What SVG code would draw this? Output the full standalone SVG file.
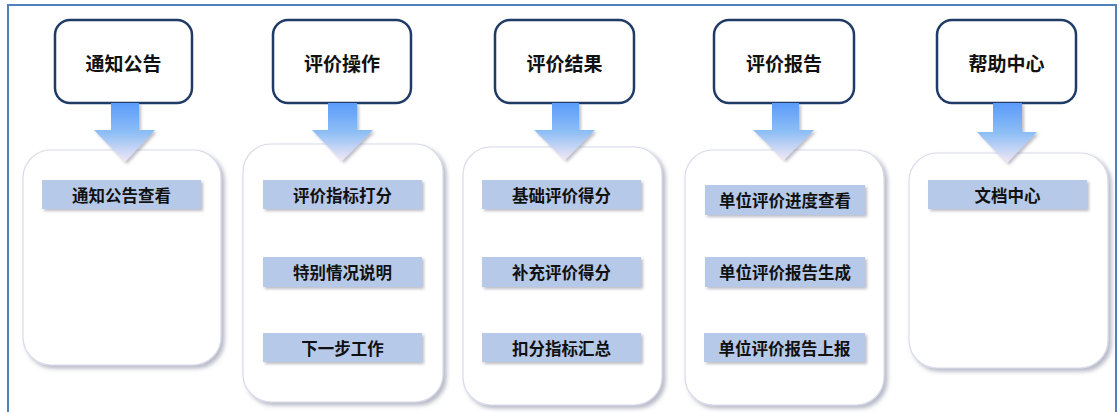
<svg xmlns="http://www.w3.org/2000/svg" width="1119" height="412" viewBox="0 0 1119 412">
<defs>
<linearGradient id="arrowGrad" x1="0" y1="0" x2="0" y2="1">
<stop offset="0" stop-color="#5B9BFA"/>
<stop offset="0.5" stop-color="#8DBEF5"/>
<stop offset="1" stop-color="#F3E8F5"/>
</linearGradient>
<filter id="shadowBig" x="-10%" y="-10%" width="125%" height="125%">
<feDropShadow dx="3" dy="3" stdDeviation="2" flood-color="#7A7F99" flood-opacity="0.55"/>
</filter>
<filter id="shadowSmall" x="-10%" y="-20%" width="125%" height="150%">
<feDropShadow dx="2" dy="2" stdDeviation="1.5" flood-color="#6A6A80" flood-opacity="0.45"/>
</filter>
</defs>
<style>
.frame{fill:none;stroke:#4F81BD;stroke-width:2}
.top{fill:#FFFFFF;stroke:#1F3B66;stroke-width:2.5}
.panel{fill:#FFFFFF;stroke:#DADBEA;stroke-width:1.2;filter:url(#shadowBig)}
.item{fill:#B7C9E8;filter:url(#shadowSmall)}
.arrow{fill:url(#arrowGrad);filter:url(#shadowSmall)}
.title{font-family:"Noto Sans CJK SC","Noto Sans",sans-serif;font-weight:bold;font-size:19px;fill:#111111;text-anchor:middle;dominant-baseline:central}
.label{font-family:"Noto Sans CJK SC","Noto Sans",sans-serif;font-weight:bold;font-size:16.5px;fill:#111111;text-anchor:middle;dominant-baseline:central}
</style>
<rect x="0" y="0" width="1119" height="412" fill="#FFFFFF"/>
<rect class="frame" x="8" y="5" width="1108" height="430"/>

<g id="col1">
<g id="top1"><rect class="top" x="55" y="20" width="137" height="83" rx="15"/><text class="title" x="123.5" y="62">通知公告</text></g>
<g id="panel1"><rect class="panel" x="23" y="150" width="198" height="215" rx="28"/>
<rect class="item" x="42" y="180" width="159" height="29"/><text class="label" x="121.5" y="195">通知公告查看</text></g>
</g>

<g id="col2">
<g id="top2"><rect class="top" x="273" y="20" width="138" height="83" rx="15"/><text class="title" x="342" y="62">评价操作</text></g>
<g id="panel2"><rect class="panel" x="243" y="144" width="200" height="258" rx="28"/>
<rect class="item" x="263" y="180" width="159" height="29"/><text class="label" x="342.5" y="195">评价指标打分</text>
<rect class="item" x="263" y="257" width="159" height="30"/><text class="label" x="342.5" y="272">特别情况说明</text>
<rect class="item" x="263" y="333" width="159" height="29"/><text class="label" x="342.5" y="348">下一步工作</text></g>
</g>

<g id="col3">
<g id="top3"><rect class="top" x="495" y="20" width="139" height="83" rx="15"/><text class="title" x="564.5" y="62">评价结果</text></g>
<g id="panel3"><rect class="panel" x="463" y="147" width="199" height="258" rx="28"/>
<rect class="item" x="482" y="180" width="159" height="29"/><text class="label" x="561.5" y="195">基础评价得分</text>
<rect class="item" x="482" y="257" width="159" height="30"/><text class="label" x="561.5" y="272">补充评价得分</text>
<rect class="item" x="482" y="333" width="159" height="29"/><text class="label" x="561.5" y="348">扣分指标汇总</text></g>
</g>

<g id="col4">
<g id="top4"><rect class="top" x="714" y="20" width="140" height="83" rx="15"/><text class="title" x="784" y="62">评价报告</text></g>
<g id="panel4"><rect class="panel" x="685" y="150" width="199" height="255" rx="28"/>
<rect class="item" x="705" y="185" width="160" height="30"/><text class="label" x="785" y="200">单位评价进度查看</text>
<rect class="item" x="705" y="257" width="160" height="30"/><text class="label" x="785" y="272">单位评价报告生成</text>
<rect class="item" x="704" y="333" width="161" height="29"/><text class="label" x="784.5" y="348">单位评价报告上报</text></g>
</g>

<g id="col5">
<g id="top5"><rect class="top" x="937" y="20" width="139" height="83" rx="15"/><text class="title" x="1006.5" y="62">帮助中心</text></g>
<g id="panel5"><rect class="panel" x="909" y="153" width="199" height="215" rx="28"/>
<rect class="item" x="928" y="180" width="159" height="29"/><text class="label" x="1007.5" y="195">文档中心</text></g>
</g>

<g id="connectors">
<polygon class="arrow" points="111,103 139,103 139,130 155,130 125,162 94,130 111,130"/>
<polygon class="arrow" points="328,103 357,103 357,130 373,130 342,161 312,130 328,130"/>
<polygon class="arrow" points="552,103 579,103 579,130 595,130 565,160 534,130 552,130"/>
<polygon class="arrow" points="772,103 799,103 799,130 814,130 784,160 753,130 772,130"/>
<polygon class="arrow" points="993,103 1022,103 1022,132 1037,132 1007,163 977,132 993,132"/>
</g>
</svg>
